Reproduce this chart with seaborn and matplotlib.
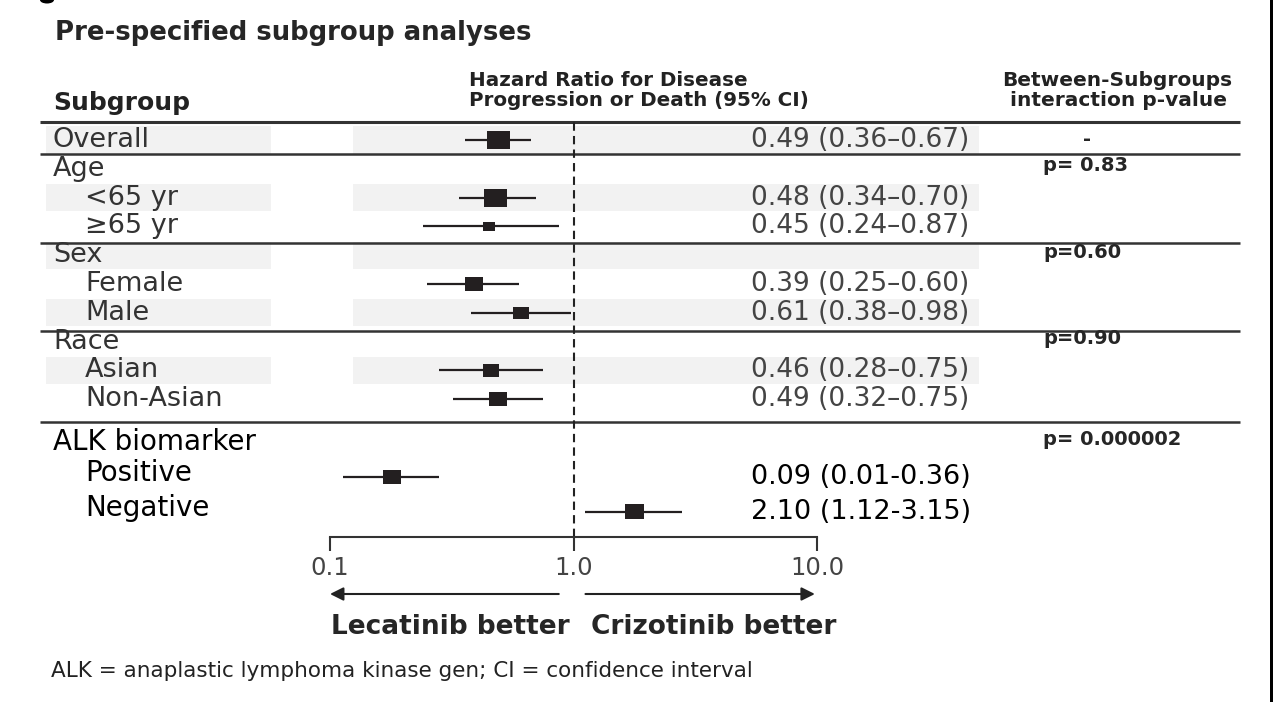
"""
Forest plot of pre-specified subgroup analyses (hazard ratio, 95% CI).
"""

import numpy as np
import pandas as pd
import seaborn as sns
import matplotlib.pyplot as plt
from matplotlib import transforms as mtransforms
from matplotlib.path import Path
from matplotlib.patches import Rectangle, Ellipse

# Data
subgroups = ["Overall", "Age", "<65 yr", "\u226565 yr", "Sex", "Female", "Male",
             "Race", "Asian", "Non-Asian", "ALK biomarker", "Positive", "Negative"]
is_sub = [False, False, True, True, False, True, True,
          False, True, True, False, True, True]
hr = [0.49, np.nan, 0.48, 0.45, np.nan, 0.39, 0.61,
      np.nan, 0.46, 0.49, np.nan, 0.18, 1.78]
ci_low = [0.36, np.nan, 0.34, 0.24, np.nan, 0.25, 0.38,
          np.nan, 0.28, 0.32, np.nan, 0.113, 1.12]
ci_high = [0.67, np.nan, 0.70, 0.87, np.nan, 0.60, 0.98,
           np.nan, 0.75, 0.75, np.nan, 0.28, 2.78]
weight = [23, np.nan, 23, 12, np.nan, 18, 16, np.nan, 16, 18, np.nan, 18, 19]
ci_text = ["0.49 (0.36\u20130.67)", "", "0.48 (0.34\u20130.70)", "0.45 (0.24\u20130.87)",
           "", "0.39 (0.25\u20130.60)", "0.61 (0.38\u20130.98)", "",
           "0.46 (0.28\u20130.75)", "0.49 (0.32\u20130.75)", "",
           "0.09 (0.01-0.36)", "2.10 (1.12-3.15)"]
p_values = {"Overall": "-", "Age": "p= 0.83", "Sex": "p=0.60",
            "Race": "p=0.90", "ALK biomarker": "p= 0.000002"}
tick_values = [0.1, 1.0, 10.0]
tick_labels = ["0.1", "1.0", "10.0"]

df = pd.DataFrame({"subgroup": subgroups, "sub": is_sub, "hr": hr,
                   "lo": ci_low, "hi": ci_high, "w": weight, "ci": ci_text})

# row layout: first ten rows evenly spaced, ALK block a bit looser
n_main = 10
df["y"] = [i if i < n_main else 10.5 + 1.2 * (i - n_main) for i in range(len(df))]
df["is_alk"] = df.index >= n_main
df["msize"] = (df["w"] * 0.72) ** 2

W, H = 1273, 702
sns.set_theme(style="white")
plt.rcParams["font.family"] = ["DejaVu Sans"]

fig = plt.figure(figsize=(W / 100, H / 100), dpi=100)
ax = fig.add_axes([330 / W, 1 - 537 / H, 487 / W, 415 / H])
ax.set_xscale("log")

# pixel transform (x right, y down from top-left) and blended ones
pix = mtransforms.Affine2D().scale(1 / W, -1 / H).translate(0, 1) + fig.transFigure
pix_data = mtransforms.blended_transform_factory(pix, ax.transData)
data_pix = mtransforms.blended_transform_factory(ax.transData, pix)

# alternating shading bands
for _, r in df[~df["is_alk"]].iterrows():
    if int(r["y"]) % 2 == 0:
        for x0, x1 in [(46, 271), (353, 979)]:
            ax.add_patch(Rectangle((x0, r["y"] - 0.47), x1 - x0, 0.94,
                                   transform=pix_data, color="#f2f2f2",
                                   lw=0, clip_on=False, zorder=0))

# separator lines
for yy, lw in [(-0.625, 2.2), (0.49, 1.8), (3.58, 1.8), (6.63, 1.8), (9.79, 1.8)]:
    ax.plot([40, 1240], [yy, yy], transform=pix_data, color="#333333",
            lw=lw, clip_on=False, zorder=1, solid_capstyle="butt")

# CI whiskers and boxes
pts = df.dropna(subset=["hr"])
ax.hlines(pts["y"], pts["lo"], pts["hi"], color="#231f20", lw=1.6, zorder=2)
rect = Path([(-0.5, -0.39), (0.5, -0.39), (0.5, 0.39), (-0.5, 0.39), (-0.5, -0.39)],
            [Path.MOVETO, Path.LINETO, Path.LINETO, Path.LINETO, Path.CLOSEPOLY])
smin, smax = pts["msize"].min(), pts["msize"].max()
sns.scatterplot(data=pts, x="hr", y="y", size="msize", sizes=(smin, smax),
                size_norm=(smin, smax), marker=rect, color="#231f20",
                linewidth=0, legend=False, ax=ax, zorder=3)

ax.axvline(1.0, color="#222222", lw=1.5, dashes=(4, 2.5), zorder=1)

ax.set_xlim(0.1, 10)
ax.set_ylim(13.785, -0.625)
ax.set_xlabel("")
ax.set_ylabel("")
ax.set_yticks([])
ax.set_xticks(tick_values)
ax.set_xticklabels(tick_labels)
ax.xaxis.set_minor_locator(plt.NullLocator())
ax.tick_params(axis="x", direction="out", length=10, width=1.5, color="#333333",
               labelsize=17.5, labelcolor="#444444", pad=4, bottom=True)
for s in ["top", "left", "right"]:
    ax.spines[s].set_visible(False)
ax.spines["bottom"].set_bounds(0.1, 10)
ax.spines["bottom"].set_color("#333333")
ax.spines["bottom"].set_linewidth(1.5)
ax.patch.set_alpha(0)

# row labels, CI text, p-values
for _, r in df.iterrows():
    col = "black" if r["is_alk"] else "#333333"
    # ALK sub-labels sit a little above their boxes in the original
    ylab = r["y"] - (0.12 if (r["is_alk"] and r["sub"]) else 0)
    ax.text(85 if r["sub"] else 53, ylab, r["subgroup"], transform=pix_data,
            fontsize=20 if r["is_alk"] else 19.5, color=col, va="center", ha="left")
    if r["ci"]:
        ax.text(751, r["y"], r["ci"], transform=pix_data,
                fontsize=19.5 if r["is_alk"] else 19,
                color="black" if r["is_alk"] else "#444444", va="center", ha="left")
    if r["subgroup"] in p_values:
        p = p_values[r["subgroup"]]
        if p == "-":
            ax.text(1087, r["y"], p, transform=pix_data, fontsize=14,
                    fontweight="bold", va="center", ha="center")
        else:
            ax.text(1043, r["y"] - 0.1, p, transform=pix_data, fontsize=14,
                    fontweight="bold", va="center", ha="left")

# direction arrows and labels
arrow = dict(arrowstyle="-|>", color="#222222", lw=1.5, mutation_scale=20,
             shrinkA=0, shrinkB=0)
ax.annotate("", xy=(0.1, 594), xytext=(0.87, 594), xycoords=data_pix,
            textcoords=data_pix, arrowprops=arrow, annotation_clip=False)
ax.annotate("", xy=(9.8, 594), xytext=(1.12, 594), xycoords=data_pix,
            textcoords=data_pix, arrowprops=arrow, annotation_clip=False)
fig.text(450, 627, "Lecatinib better", transform=pix, fontsize=19,
         fontweight="bold", ha="center", va="center")
fig.text(714, 627, "Crizotinib better", transform=pix, fontsize=19,
         fontweight="bold", ha="center", va="center")

# titles and headers
fig.text(55, 33, "Pre-specified subgroup analyses", transform=pix, fontsize=18.7,
         fontweight="bold", ha="left", va="center")
fig.text(53, 103, "Subgroup", transform=pix, fontsize=18, fontweight="semibold",
         color="#222222", ha="left", va="center")
fig.text(469, 80, "Hazard Ratio for Disease", transform=pix, fontsize=14.3,
         fontweight="bold", color="#222222", ha="left", va="center")
fig.text(469, 101, "Progression or Death (95% CI)", transform=pix, fontsize=14.3,
         fontweight="bold", color="#222222", ha="left", va="center")
fig.text(1117, 80, "Between-Subgroups", transform=pix, fontsize=14.5,
         fontweight="bold", color="#222222", ha="center", va="center")
fig.text(1119, 101, "interaction p-value", transform=pix, fontsize=14.5,
         fontweight="bold", color="#222222", ha="center", va="center")
fig.text(51, 671, "ALK = anaplastic lymphoma kinase gen; CI = confidence interval",
         transform=pix, fontsize=15.5, color="#222222", ha="left", va="center")

# screenshot edge remnants
fig.patches.append(Rectangle((1270, 0), 3, H, transform=pix, color="black", lw=0))
fig.patches.append(Ellipse((47, 0), 14, 7, transform=pix, color="black", lw=0))

fig.savefig("out.png", dpi=100)
plt.close(fig)
